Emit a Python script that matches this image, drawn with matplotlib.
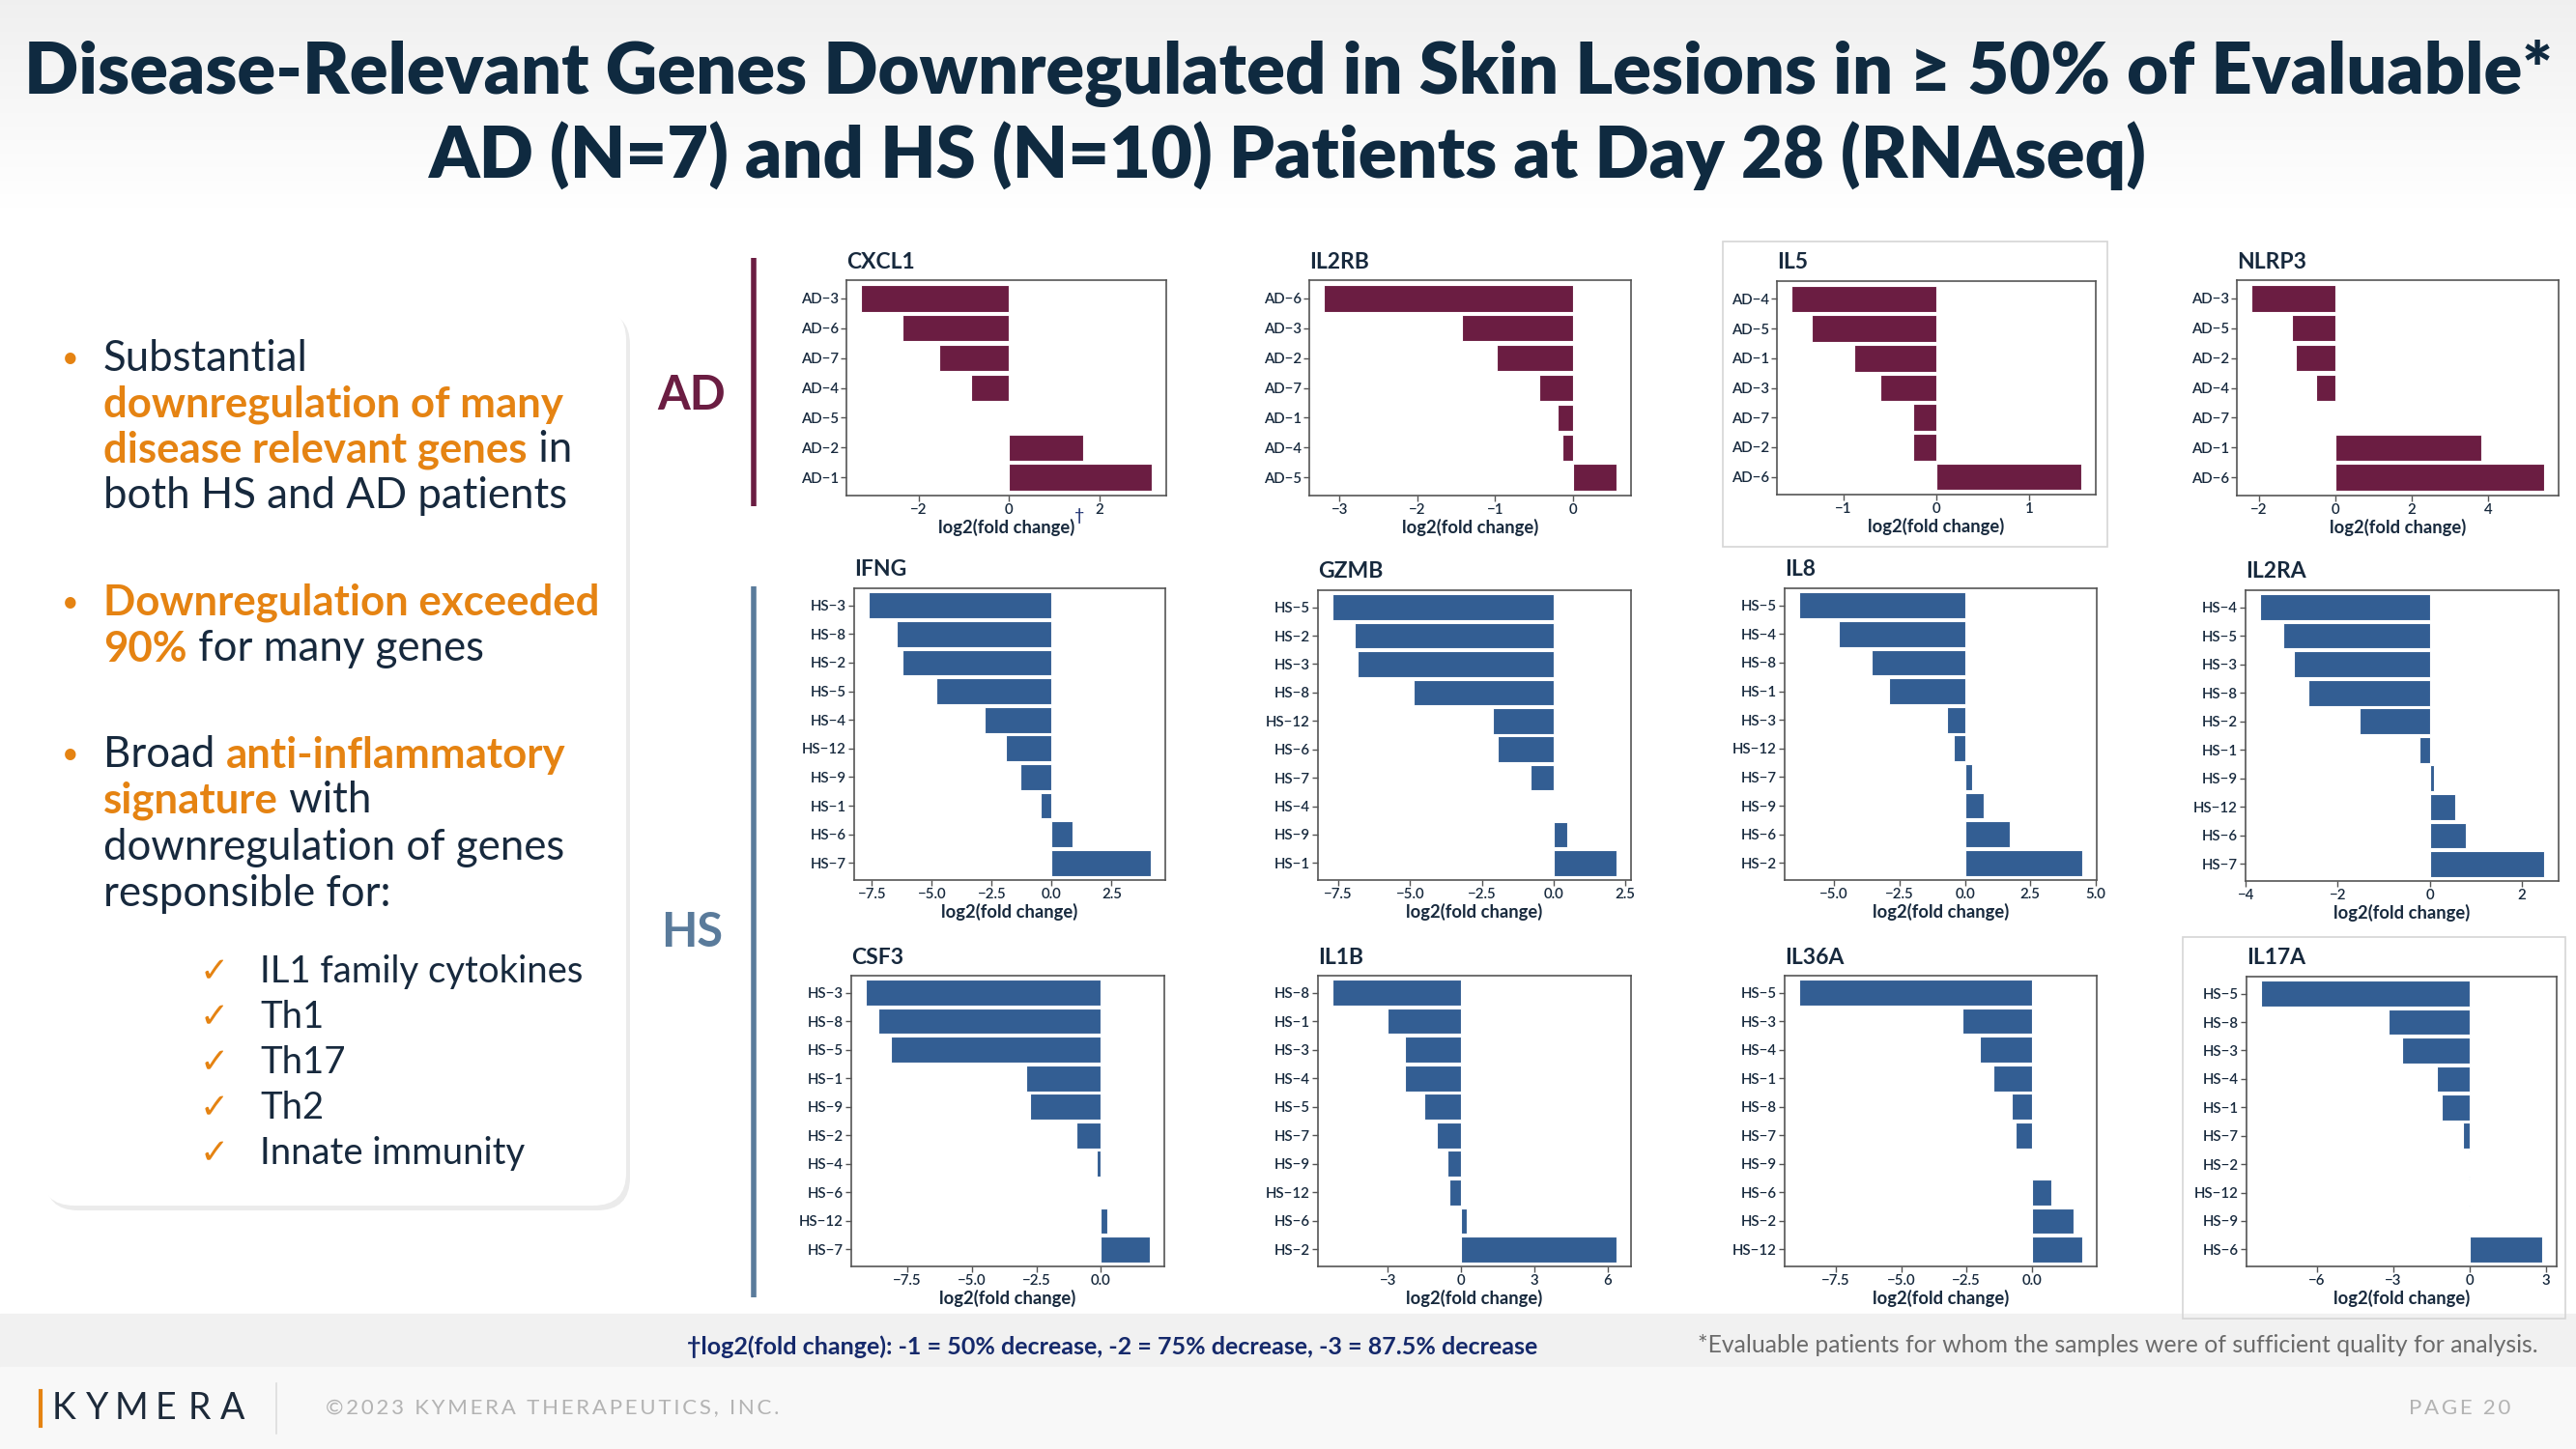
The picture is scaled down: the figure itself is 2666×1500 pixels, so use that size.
import numpy as np
import matplotlib
matplotlib.use("Agg")
import matplotlib.pyplot as plt
from matplotlib.patches import FancyBboxPatch, Rectangle

plt.rcParams['font.family'] = ['Lato', 'DejaVu Sans']

# ---- data (log2 fold change, Day 28) ----
cxcl1_pts = ["AD-3", "AD-6", "AD-7", "AD-4", "AD-5", "AD-2", "AD-1"]
cxcl1_vals = [-3.28, -2.36, -1.54, -0.84, 0.0, 1.65, 3.16]
il2rb_pts = ["AD-6", "AD-3", "AD-2", "AD-7", "AD-1", "AD-4", "AD-5"]
il2rb_vals = [-3.20, -1.43, -0.98, -0.43, -0.20, -0.13, 0.56]
il5_pts = ["AD-4", "AD-5", "AD-1", "AD-3", "AD-7", "AD-2", "AD-6"]
il5_vals = [-1.56, -1.34, -0.88, -0.60, -0.25, -0.245, 1.56]
nlrp3_pts = ["AD-3", "AD-5", "AD-2", "AD-4", "AD-7", "AD-1", "AD-6"]
nlrp3_vals = [-2.20, -1.15, -1.03, -0.51, 0.0, 3.82, 5.47]

ifng_pts = ["HS-3", "HS-8", "HS-2", "HS-5", "HS-4", "HS-12", "HS-9", "HS-1", "HS-6", "HS-7"]
ifng_vals = [-7.65, -6.46, -6.23, -4.81, -2.80, -1.90, -1.30, -0.47, 0.88, 4.15]
gzmb_pts = ["HS-5", "HS-2", "HS-3", "HS-8", "HS-12", "HS-6", "HS-7", "HS-4", "HS-9", "HS-1"]
gzmb_vals = [-7.71, -6.92, -6.82, -4.88, -2.12, -1.96, -0.79, 0.0, 0.46, 2.20]
il8_pts = ["HS-5", "HS-4", "HS-8", "HS-1", "HS-3", "HS-12", "HS-7", "HS-9", "HS-6", "HS-2"]
il8_vals = [-6.35, -4.83, -3.57, -2.89, -0.70, -0.41, 0.28, 0.71, 1.73, 4.50]
il2ra_pts = ["HS-4", "HS-5", "HS-3", "HS-8", "HS-2", "HS-1", "HS-9", "HS-12", "HS-6", "HS-7"]
il2ra_vals = [-3.70, -3.19, -2.95, -2.64, -1.53, -0.22, 0.105, 0.55, 0.78, 2.50]
csf3_pts = ["HS-3", "HS-8", "HS-5", "HS-1", "HS-9", "HS-2", "HS-4", "HS-6", "HS-12", "HS-7"]
csf3_vals = [-9.13, -8.63, -8.13, -2.88, -2.75, -0.96, -0.15, 0.0, 0.26, 1.91]
il1b_pts = ["HS-8", "HS-1", "HS-3", "HS-4", "HS-5", "HS-7", "HS-9", "HS-12", "HS-6", "HS-2"]
il1b_vals = [-5.28, -3.00, -2.30, -2.31, -1.53, -1.00, -0.57, -0.50, 0.21, 6.37]
il36a_pts = ["HS-5", "HS-3", "HS-4", "HS-1", "HS-8", "HS-7", "HS-9", "HS-6", "HS-2", "HS-12"]
il36a_vals = [-8.92, -2.66, -1.97, -1.48, -0.76, -0.63, 0.0, 0.76, 1.60, 1.95]
il17a_pts = ["HS-5", "HS-8", "HS-3", "HS-4", "HS-1", "HS-7", "HS-2", "HS-12", "HS-9", "HS-6"]
il17a_vals = [-8.20, -3.19, -2.64, -1.29, -1.08, -0.24, -0.03, -0.01, 0.0, 2.88]

W, H = 2666, 1500
AD_COL = "#6b1d42"
HS_COL = "#335e93"
NAVY = "#17293d"
ORANGE = "#e58312"

fig = plt.figure(figsize=(W / 100, H / 100), dpi=100)
fig.patch.set_facecolor("white")

# background axes in pixel coords
bg = fig.add_axes([0, 0, 1, 1], zorder=0)
bg.set_xlim(0, W)
bg.set_ylim(H, 0)
bg.axis("off")

# header gradient
grad = np.linspace(0.94, 1.0, 100).reshape(-1, 1)
bg.imshow(np.dstack([grad, grad, grad]), extent=(0, W, 216, 0), aspect="auto", zorder=0)
bg.add_patch(Rectangle((0, 1360), W, 55, color="#f1f1f1", zorder=0))
bg.add_patch(Rectangle((0, 1415), W, 85, color="#f8f8f8", zorder=0))

bg.text(W / 2, 76, "Disease-Relevant Genes Downregulated in Skin Lesions in \u2265 50% of Evaluable*",
        ha="center", va="center", fontsize=53.3, fontweight="heavy", color="#0f2a40")
bg.text(W / 2, 161, "AD (N=7) and HS (N=10) Patients at Day 28 (RNAseq)",
        ha="center", va="center", fontsize=53.3, fontweight="heavy", color="#0f2a40")

# left text box with shadow
bg.add_patch(FancyBboxPatch((47, 323), 605, 930, boxstyle="round,pad=0,rounding_size=34",
                            fc="#ebebeb", ec="none", zorder=1))
bg.add_patch(FancyBboxPatch((43, 318), 605, 930, boxstyle="round,pad=0,rounding_size=34",
                            fc="white", ec="none", zorder=2))


def line(y, parts, x=107, size=31.5):
    prev = None
    for s, c in parts:
        w = "bold" if c == ORANGE else "normal"
        if prev is None:
            prev = bg.text(x, y, s, ha="left", va="center", fontsize=size, color=c,
                           fontweight=w, zorder=3)
        else:
            prev = bg.annotate(s, xy=(1, 0), xycoords=prev, ha="left", va="bottom",
                               fontsize=size, color=c, fontweight=w, zorder=3)


for yb in (371, 624, 781):
    bg.text(64, yb, "\u2022", ha="left", va="center", fontsize=22, color=ORANGE, zorder=3)

line(371, [("Substantial", NAVY)])
line(419, [("downregulation of many", ORANGE)])
line(466, [("disease relevant genes", ORANGE), (" in", NAVY)])
line(514, [("both HS and AD patients", NAVY)])
line(624, [("Downregulation exceeded", ORANGE)])
line(672, [("90%", ORANGE), (" for many genes", NAVY)])
line(781, [("Broad ", NAVY), ("anti-inflammatory", ORANGE)])
line(829, [("signature", ORANGE), (" with", NAVY)])
line(877, [("downregulation of genes", NAVY)])
line(925, [("responsible for:", NAVY)])

checks = ["IL1 family cytokines", "Th1", "Th17", "Th2", "Innate immunity"]
for i, s in enumerate(checks):
    yy = 1006 + i * 47
    bg.text(207, yy, "\u2713", ha="left", va="center", fontsize=26, color=ORANGE,
            family=["DejaVu Sans"], zorder=3)
    bg.text(269, yy, s, ha="left", va="center", fontsize=27.5, color=NAVY, zorder=3)

# group markers
bg.plot([780, 780], [267, 524], color=AD_COL, lw=4, solid_capstyle="butt")
bg.plot([780, 780], [607, 1343], color="#5a7b9b", lw=4, solid_capstyle="butt")
bg.text(716, 410, "AD", ha="center", va="center", fontsize=35, fontweight="bold", color=AD_COL)
bg.text(716, 966, "HS", ha="center", va="center", fontsize=35, fontweight="bold", color="#5a7b9b")

# light frames around two panels
bg.add_patch(Rectangle((1783, 250), 398, 316, fill=False, ec="#d6d6d6", lw=1.2))
bg.add_patch(Rectangle((2259, 970), 396, 395, fill=False, ec="#d6d6d6", lw=1.2))

# footer
bg.text(1151, 1394, "\u2020log2(fold change): -1 = 50% decrease, -2 = 75% decrease, -3 = 87.5% decrease",
        ha="center", va="center", fontsize=18, fontweight="bold", color="#15296b")
bg.text(2627, 1393, "*Evaluable patients for whom the samples were of sufficient quality for analysis.",
        ha="right", va="center", fontsize=17.8, color="#6b6b6b")

for i, ch in enumerate("KYMERA"):
    bg.text(66 + i * 35, 1458, ch, ha="center", va="center", fontsize=27, color="#1d2a3a")
bg.plot([42, 42], [1440, 1476], color=ORANGE, lw=3)
bg.plot([286, 286], [1432, 1484], color="#dddddd", lw=1.2)
bg.text(337, 1458, "\u2009".join("\u00a92023 KYMERA THERAPEUTICS, INC."), ha="left", va="center",
        fontsize=16, color="#b3b3b3")
bg.text(2598, 1458, "\u2009".join("PAGE 20"), ha="right", va="center", fontsize=16, color="#b3b3b3")

# ---- panels ----
panels = [
    ("CXCL1", cxcl1_pts, cxcl1_vals, AD_COL, (876, 1207, 290, 513), [-2, 0, 2], "{:.0f}"),
    ("IL2RB", il2rb_pts, il2rb_vals, AD_COL, (1355, 1688, 290, 513), [-3, -2, -1, 0], "{:.0f}"),
    ("IL5", il5_pts, il5_vals, AD_COL, (1839, 2169, 291, 512), [-1, 0, 1], "{:.0f}"),
    ("NLRP3", nlrp3_pts, nlrp3_vals, AD_COL, (2315, 2648, 290, 513), [-2, 0, 2, 4], "{:.0f}"),
    ("IFNG", ifng_pts, ifng_vals, HS_COL, (884, 1206, 609, 911), [-7.5, -5, -2.5, 0, 2.5], "{:.1f}"),
    ("GZMB", gzmb_pts, gzmb_vals, HS_COL, (1364, 1688, 611, 911), [-7.5, -5, -2.5, 0, 2.5], "{:.1f}"),
    ("IL8", il8_pts, il8_vals, HS_COL, (1847, 2170, 609, 911), [-5, -2.5, 0, 2.5, 5], "{:.1f}"),
    ("IL2RA", il2ra_pts, il2ra_vals, HS_COL, (2324, 2648, 611, 912), [-4, -2, 0, 2], "{:.0f}"),
    ("CSF3", csf3_pts, csf3_vals, HS_COL, (881, 1205, 1010, 1311), [-7.5, -5, -2.5, 0], "{:.1f}"),
    ("IL1B", il1b_pts, il1b_vals, HS_COL, (1364, 1688, 1010, 1311), [-3, 0, 3, 6], "{:.0f}"),
    ("IL36A", il36a_pts, il36a_vals, HS_COL, (1847, 2170, 1010, 1311), [-7.5, -5, -2.5, 0], "{:.1f}"),
    ("IL17A", il17a_pts, il17a_vals, HS_COL, (2325, 2646, 1011, 1311), [-6, -3, 0, 3], "{:.0f}"),
]

for gene, pts, vals, col, (l, r, t, b), ticks, fmt in panels:
    ax = fig.add_axes([l / W, 1 - b / H, (r - l) / W, (b - t) / H], zorder=2)
    ypos = np.arange(len(pts))
    ax.barh(ypos, vals, height=0.9, color=col, edgecolor="white", linewidth=0.8)
    ax.set_yticks(ypos)
    ax.set_yticklabels([p.replace("-", "\u2212") for p in pts])
    ax.set_ylim(len(pts) - 1 + 0.6, -0.6)
    ax.margins(x=0.05)
    ax.set_xticks(ticks)
    ax.set_xticklabels([fmt.format(v).replace("-", "\u2212") for v in ticks])
    ax.tick_params(labelsize=10.8, colors="#555555", labelcolor=NAVY, length=4, width=1, pad=2)
    for lab in ax.get_xticklabels() + ax.get_yticklabels():
        lab.set_fontweight("semibold")
    for sp in ax.spines.values():
        sp.set_color("#555555")
        sp.set_linewidth(1.2)
    ax.set_xlabel("log2(fold change)", fontsize=13.2, fontweight="bold", color=NAVY, labelpad=1)
    ax.set_title(gene, loc="left", fontsize=16.5, fontweight="bold", color=NAVY, pad=9)
    if gene == "CXCL1":
        ax.annotate("\u2020", xy=(0.73, -0.095), xycoords="axes fraction", ha="center", va="center",
                    fontsize=13, color="#15296b")

fig.savefig("out.png", dpi=100)
